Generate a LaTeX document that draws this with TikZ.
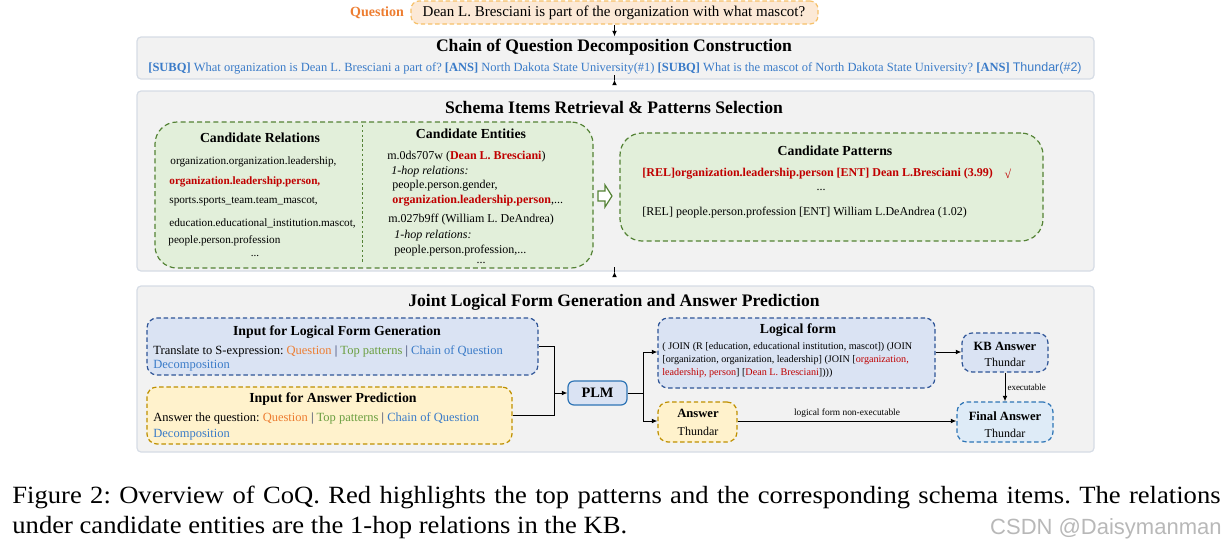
\documentclass[tikz,border=0pt]{standalone}
\usepackage{fontspec}
\setmainfont{Liberation Serif}
\newfontfamily\arialf{Liberation Sans}
\usetikzlibrary{fit,arrows.meta}
\frenchspacing
\definecolor{qorange}{HTML}{ED7D31}
\definecolor{qfill}{HTML}{FCE9D6}
\definecolor{qborder}{HTML}{F4B183}
\definecolor{secfill}{HTML}{F2F2F2}
\definecolor{secborder}{HTML}{D6DCE5}
\definecolor{chainblue}{HTML}{3A7BC8}
\definecolor{grfill}{HTML}{E2EFDA}
\definecolor{grborder}{HTML}{548235}
\definecolor{myred}{HTML}{C00000}
\definecolor{blfill}{HTML}{DAE3F3}
\definecolor{blborder}{HTML}{2F5597}
\definecolor{ylfill}{HTML}{FFF2CC}
\definecolor{ylborder}{HTML}{BF9000}
\definecolor{topgreen}{HTML}{6A9E3F}
\definecolor{plmborder}{HTML}{2E75B6}
\definecolor{fafill}{HTML}{DEEBF7}
\definecolor{wmgray}{HTML}{B8B8B8}
\definecolor{barnavy}{HTML}{1F2A5A}
\newcommand{\fs}[1]{\fontsize{#1}{#1}\selectfont}
\newcommand{\vbar}{\textcolor{barnavy}{|}}
\begin{document}
\begin{tikzpicture}[x=0.5pt,y=-0.5pt,
  secbox/.style={draw=secborder, fill=secfill, rounded corners=2pt, line width=0.6pt, inner sep=0pt},
  grbox/.style={draw=grborder, fill=grfill, dash pattern=on 2.5pt off 1.6pt, rounded corners=11pt, line width=0.6pt, inner sep=0pt},
  blbox/.style={draw=blborder, fill=blfill, dash pattern=on 2.2pt off 1.4pt, rounded corners=5pt, line width=0.6pt, inner sep=0pt},
  ylbox/.style={draw=ylborder, fill=ylfill, dash pattern=on 2.2pt off 1.4pt, rounded corners=5pt, line width=0.6pt, inner sep=0pt},
  qbox/.style={draw=qborder!80!yellow, fill=qfill, dash pattern=on 2.2pt off 1.4pt, rounded corners=4pt, line width=0.6pt, inner sep=0pt},
  plmbox/.style={draw=plmborder, fill=blfill, rounded corners=3pt, line width=0.6pt, inner sep=0pt},
  fabox/.style={draw=plmborder, fill=fafill, dash pattern=on 2.2pt off 1.4pt, rounded corners=5pt, line width=0.6pt, inner sep=0pt},
  arr/.style={-{Latex[length=2.8pt,width=2.4pt]}, line width=0.5pt},
  ln/.style={line width=0.5pt},
  tl/.style={anchor=west, inner sep=0pt},
  tc/.style={anchor=center, inner sep=0pt},
  sectitle/.style={tc, font=\fs{8.8}\bfseries},
  boxtitle/.style={tc, font=\fs{6.9}\bfseries},
  anstitle/.style={tc, font=\fs{6.3}\bfseries},
  rel/.style={font=\fs{5.6}},
  ent/.style={font=\fs{6.0}},
  inp/.style={font=\fs{6.25}},
  lform/.style={font=\fs{5.07}},
]
\useasboundingbox (0,0) rectangle (1228,548);

% ---------- Question ----------
\node[tc, font=\fs{7}\bfseries, text=qorange] (qlabel) at (377,13) {Question};
\node[qbox, fit={(411,1) (818,24)}] (q) {};
\node[tc, font=\fs{7.5}] (qtext) at (614,12.5) {Dean L. Bresciani is part of the organization with what mascot?};

% ---------- Section 1 ----------
\node[secbox, fit={(137,37) (1094,79)}] (s1) {};
\node[sectitle] (s1t) at (614,47) {Chain of Question Decomposition Construction};
\node[tc, font=\fs{6.25}, text=chainblue] (chain) at (615,68.5) {\textbf{[SUBQ]} What organization is Dean L. Bresciani a part of? \textbf{[ANS]} North Dakota State University(\#1) \textbf{[SUBQ]} What is the mascot of North Dakota State University? \textbf{[ANS]} {\arialf Thundar(\#2)}};
\draw[arr] (q.south) -- (q.south |- s1.north);

% ---------- Section 2 ----------
\node[secbox, fit={(137,91) (1094,271)}] (s2) {};
\node[sectitle] (s2t) at (614,107) {Schema Items Retrieval \& Patterns Selection};
\draw[arr] (s1.south -| q.south) -- (s1.south -| q.south |- s2.north);

\node[grbox, fit={(155,122) (593,268)}] (cand) {};
\draw[grborder, dash pattern=on 1.2pt off 1.2pt, line width=0.5pt] (362,125) -- (362,264);
\node[boxtitle] (crt) at (260,138) {Candidate Relations};
\node[tl, rel] (cr1) at (170,162) {organization.organization.leadership,};
\node[tl, rel, text=myred] (cr2) at (169,182) {\textbf{organization.leadership.person,}};
\node[tl, rel] (cr3) at (169,202) {sports.sports\_team.team\_mascot,};
\node[tl, rel] (cr4) at (169,223) {education.educational\_institution.mascot,};
\node[tl, rel] (cr5) at (168,241) {people.person.profession};
\node[tc, rel] (cr6) at (255,256) {...};

\node[boxtitle] (cet) at (471,134) {Candidate Entities};
\node[tl, ent] (ce1) at (387,157) {m.0ds707w (\textcolor{myred}{\textbf{Dean L. Bresciani}})};
\node[tl, ent] (ce2) at (391,171.5) {\itshape 1-hop relations:};
\node[tl, ent] (ce3) at (392,186) {people.person.gender,};
\node[tl, ent] (ce4) at (392,201) {\textcolor{myred}{\textbf{organization.leadership.person}},...};
\node[tl, ent] (ce5) at (388,220) {m.027b9ff (William L. DeAndrea)};
\node[tl, ent] (ce6) at (394,236) {\itshape 1-hop relations:};
\node[tl, ent] (ce7) at (394,250.5) {people.person.profession,...};
\node[tc, ent] (ce8) at (481,263) {...};

\draw[grborder, fill=white, line width=0.6pt] (598,191) -- (605,191) -- (605,185) -- (612,196) -- (605,207) -- (605,201) -- (598,201) -- cycle;

\node[grbox, fit={(620,133) (1043,241)}] (pat) {};
\node[boxtitle] (patt) at (835,151) {Candidate Patterns};
\node[tl, ent, text=myred] (p1) at (642,174) {\textbf{[REL]organization.leadership.person [ENT] Dean L.Bresciani (3.99)}};
\node[tc, ent, text=myred] (p1c) at (1008,174) {√};
\node[tc, ent] (p2) at (821,190) {...};
\node[tl, ent] (p3) at (642,213) {[REL] people.person.profession [ENT] William L.DeAndrea (1.02)};

% ---------- Section 3 ----------
\node[secbox, fit={(137,286) (1094,452)}] (s3) {};
\node[sectitle] (s3t) at (614,302) {Joint Logical Form Generation and Answer Prediction};
\draw[arr] (s2.south -| q.south) -- (s2.south -| q.south |- s3.north);

\node[blbox, fit={(147,318) (538,375)}] (lfin) {};
\node[boxtitle] (lfint) at (337,332) {Input for Logical Form Generation};
\node[tl, inp] (lfin1) at (153,351) {Translate to S-expression: \textcolor{qorange}{Question} \vbar{} \textcolor{topgreen}{Top patterns} \vbar{} \textcolor{chainblue}{Chain of Question}};
\node[tl, inp, text=chainblue] (lfin2) at (153,366) {Decomposition};

\node[ylbox, fit={(147,387) (512,444)}] (ain) {};
\node[boxtitle] (aint) at (333,399) {Input for Answer Prediction};
\node[tl, inp] (ain1) at (153,418) {Answer the question: \textcolor{qorange}{Question} \vbar{} \textcolor{topgreen}{Top patterns} \vbar{} \textcolor{chainblue}{Chain of Question}};
\node[tl, inp, text=chainblue] (ain2) at (153,435) {Decomposition};

\node[plmbox, fit={(568,381) (627,405)}] (plm) {};
\node[tc, font=\fs{7.2}\bfseries] (plmt) at (597.5,393) {PLM};

\coordinate (j) at (554,393);
\draw[ln] (lfin.east) -| (j);
\draw[ln] (ain.east) -| (j);
\draw[arr] (j) -- (plm.west);

\node[blbox, fit={(658,318) (935,388)}] (lf) {};
\node[boxtitle] (lft) at (798,330) {Logical form};
\node[tl, lform] (lf1) at (662,347) {( JOIN (R [education, educational institution, mascot]) (JOIN};
\node[tl, lform] (lf2) at (662,360) {[organization, organization, leadership] (JOIN [\textcolor{myred}{organization,}};
\node[tl, lform] (lf3) at (662,373) {\textcolor{myred}{leadership, person}] [\textcolor{myred}{Dean L. Bresciani}])))};

\coordinate (k) at (643,393);
\draw[ln] (plm.east) -- (k);

\node[blbox, fit={(962,333) (1048,372)}] (kb) {};
\node[anstitle] (kbt) at (1005,346) {KB Answer};
\node[tc, ent] (kbv) at (1005,362) {Thundar};

\node[ylbox, fit={(658,402) (737,442)}] (ans) {};
\node[anstitle] (anst) at (698,413) {Answer};
\node[tc, ent] (ansv) at (698,431) {Thundar};

\node[fabox, fit={(957,402) (1053,442)}] (fa) {};
\node[anstitle] (fat) at (1005,416) {Final Answer};
\node[tc, ent] (fav) at (1005,433) {Thundar};

\draw[arr] (k) |- (lf.west |- 0,352);
\draw[arr] (k) |- (ans.west |- 0,421);
\draw[arr] (lf.east |- 0,352) -- (kb.west |- 0,352);
\draw[arr] (kb.south) -- (kb.south |- fa.north) node[midway, right=1pt, inner sep=0pt, font=\fs{4.5}] {executable};
\draw[arr] (ans.east |- 0,421) -- (fa.west |- 0,421) node[midway, above=1.6pt, inner sep=0pt, font=\fs{4.7}] {logical form non-executable};

% ---------- Caption ----------
\node[tl, font=\fs{12.4}] (cap1) at (12,497) {\scalebox{1.073}[1]{\makebox[563pt][s]{Figure 2: Overview of CoQ. Red highlights the top patterns and the corresponding schema items. The relations}}};
\node[tl, font=\fs{12.4}] (cap2) at (12,528) {\scalebox{1.073}[1]{under candidate entities are the 1-hop relations in the KB.}};
\node[anchor=east, inner sep=0pt, font=\arialf\fs{11}, text=wmgray] (wm) at (1222,529) {CSDN @Daisymanman};
\end{tikzpicture}
\end{document}
